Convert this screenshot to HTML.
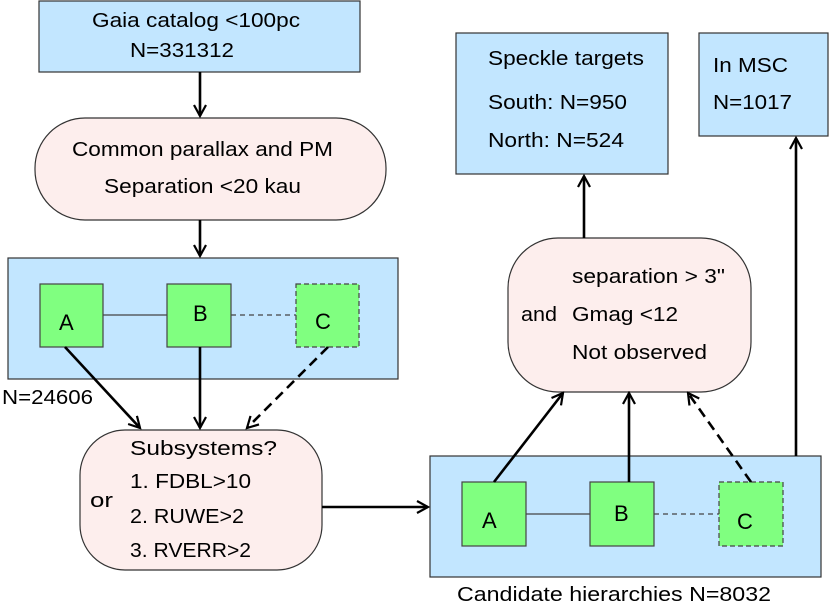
<!DOCTYPE html><html><head><style>body{margin:0;background:#fff}svg{display:block}text{font-family:"Liberation Sans",sans-serif;font-size:20px;fill:#000}.L{font-size:22px}</style></head><body>
<svg width="830" height="605" viewBox="0 0 830 605">
<defs><marker id="a" markerWidth="14" markerHeight="14" refX="12" refY="7" orient="auto" markerUnits="userSpaceOnUse"><path d="M1,1 L12,7 L1,13" fill="none" stroke="#000" stroke-width="2.2"/></marker></defs>
<g stroke="#333" stroke-width="1.2">
<rect x="39" y="1" width="321" height="71" fill="#c2e6ff"/>
<rect x="35" y="118" width="351" height="102" rx="50" fill="#fdeeed"/>
<rect x="8" y="258" width="390" height="121" fill="#c2e6ff"/>
<rect x="80" y="430" width="242" height="140" rx="45" fill="#fdeeed"/>
<rect x="430" y="456" width="391" height="121" fill="#c2e6ff"/>
<rect x="456" y="33" width="212" height="141" fill="#c2e6ff"/>
<rect x="699" y="33" width="129" height="103" fill="#c2e6ff"/>
<rect x="508" y="238" width="243" height="154" rx="50" fill="#fdeeed"/>
</g>
<g stroke="#444" stroke-width="1.2" fill="#80ff80">
<line x1="103" y1="315" x2="167" y2="315"/><line x1="231" y1="315" x2="296" y2="315" stroke-dasharray="5,4"/>
<rect x="40" y="284" width="63" height="63"/><rect x="167" y="284" width="64" height="63"/><rect x="296" y="284" width="63" height="63" stroke-dasharray="5,3"/>
<line x1="526" y1="514" x2="590" y2="514"/><line x1="654" y1="514" x2="719" y2="514" stroke-dasharray="5,4"/>
<rect x="462" y="482" width="64" height="64"/><rect x="590" y="482" width="64" height="64"/><rect x="719" y="482" width="64" height="64" stroke-dasharray="5,3"/>
</g>
<g stroke="#000" stroke-width="2.6" fill="none" marker-end="url(#a)">
<line x1="200" y1="72" x2="200" y2="116"/>
<line x1="200" y1="220" x2="200" y2="256"/>
<line x1="65" y1="347" x2="140" y2="428"/>
<line x1="200" y1="347" x2="200" y2="428"/>
<line x1="328" y1="347" x2="247" y2="428" stroke-dasharray="10,6"/>
<line x1="322" y1="507" x2="428" y2="507"/>
<line x1="494" y1="482" x2="563" y2="393"/>
<line x1="629" y1="482" x2="629" y2="393"/>
<line x1="751" y1="482" x2="688" y2="393" stroke-dasharray="10,6"/>
<line x1="584" y1="238" x2="584" y2="176"/>
<line x1="796" y1="456" x2="796" y2="138"/>
</g>
<text x="92" y="27" textLength="208" lengthAdjust="spacingAndGlyphs">Gaia catalog &lt;100pc</text><text x="130" y="57" textLength="104" lengthAdjust="spacingAndGlyphs">N=331312</text>
<text x="72" y="156" textLength="261" lengthAdjust="spacingAndGlyphs">Common parallax and PM</text><text x="104" y="193" textLength="197" lengthAdjust="spacingAndGlyphs">Separation &lt;20 kau</text>
<text class="L" x="59" y="330">A</text><text class="L" x="193" y="321">B</text><text class="L" x="315" y="329">C</text>
<text x="2" y="404" textLength="91" lengthAdjust="spacingAndGlyphs">N=24606</text>
<text x="130" y="455" textLength="147" lengthAdjust="spacingAndGlyphs">Subsystems?</text><text x="90" y="507" textLength="23" lengthAdjust="spacingAndGlyphs">or</text>
<text x="130" y="488" textLength="121" lengthAdjust="spacingAndGlyphs">1. FDBL&gt;10</text><text x="130" y="523" textLength="114" lengthAdjust="spacingAndGlyphs">2. RUWE&gt;2</text><text x="130" y="557" textLength="121" lengthAdjust="spacingAndGlyphs">3. RVERR&gt;2</text>
<text class="L" x="482" y="528">A</text><text class="L" x="614" y="521">B</text><text class="L" x="737" y="529">C</text>
<text x="457" y="601" textLength="314" lengthAdjust="spacingAndGlyphs">Candidate hierarchies  N=8032</text>
<text x="488" y="65" textLength="156" lengthAdjust="spacingAndGlyphs">Speckle targets</text><text x="488" y="109" textLength="139" lengthAdjust="spacingAndGlyphs">South: N=950</text><text x="488" y="147" textLength="136" lengthAdjust="spacingAndGlyphs">North: N=524</text>
<text x="713" y="72" textLength="75" lengthAdjust="spacingAndGlyphs">In MSC</text><text x="713" y="109" textLength="79" lengthAdjust="spacingAndGlyphs">N=1017</text>
<text x="572" y="283" textLength="153" lengthAdjust="spacingAndGlyphs">separation &gt; 3"</text><text x="521" y="321" textLength="36" lengthAdjust="spacingAndGlyphs">and</text><text x="572" y="321" textLength="106" lengthAdjust="spacingAndGlyphs">Gmag &lt;12</text><text x="572" y="359" textLength="135" lengthAdjust="spacingAndGlyphs">Not observed</text>
</svg></body></html>
